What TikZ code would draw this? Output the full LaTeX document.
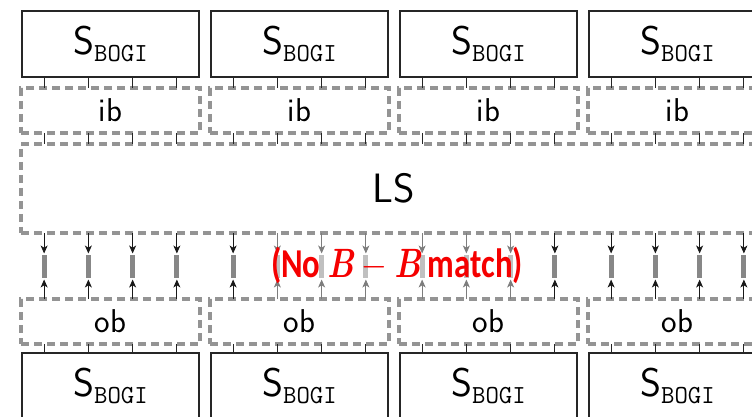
\documentclass[tikz,border=0pt]{standalone}
\usepackage{fontspec}
\newfontfamily\notefont{Carlito}
\usetikzlibrary{calc,arrows.meta}
\definecolor{dashgray}{RGB}{148,148,148}
\definecolor{bargray}{RGB}{135,135,135}
\definecolor{fadebar}{RGB}{192,192,192}
\definecolor{fadeline}{RGB}{125,125,125}
\definecolor{alertred}{RGB}{245,0,0}
\newcommand{\sbogi}{{\fontsize{40}{44}\selectfont\sffamily S\raisebox{-7pt}{\fontsize{26}{26}\selectfont\ttfamily BOGI}}}
\begin{document}
\begin{tikzpicture}[x=1pt,y=-1pt,
  sbox/.style={draw=black!85, line width=1.1pt, minimum width=177pt, minimum height=66pt,
    inner sep=0pt, outer sep=0pt, anchor=north west},
  dbox/.style={draw=dashgray, line width=3.4pt, dash pattern=on 8pt off 5pt,
    inner sep=0pt, outer sep=0pt, anchor=north west},
  buf/.style={dbox, minimum width=179pt, minimum height=45pt,
    font=\fontsize{33}{36}\selectfont\sffamily},
  tick/.style={draw=black!85, line width=0.9pt},
  arr/.style={draw=black!90, line width=0.9pt, shorten >=1.5pt,
    -{Stealth[length=8pt,width=7pt,inset=2.2pt]}},
  fadearr/.style={arr, draw=fadeline, fill=fadeline},
  bar/.style={fill=bargray, minimum width=4.8pt, minimum height=23pt, inner sep=0pt, outer sep=0pt},
  fadedbar/.style={bar, fill=fadebar},
]
\useasboundingbox (0,0) rectangle (752,417);

% the four lanes: source block, input buffer, output buffer, sink block
\foreach \i in {0,...,3} {
  \pgfmathsetmacro\lx{22+189*\i}
  \node[sbox] (st\i) at (\lx,11) {};
  \node at (st\i.center) {\sbogi};
  \node[buf] (ib\i) at (\lx-1,88) {ib};
  \node[buf] (ob\i) at (\lx-1,299) {ob};
  \node[sbox] (sb\i) at (\lx,353) {};
  \node at ([yshift=-33pt]sb\i.north) {\sbogi};
}

% shared stage spanning all lanes
\node[dbox, minimum width=746pt, minimum height=89pt,
  font=\fontsize{41}{44}\selectfont\sffamily] (ls) at (21,144) {LS};

\foreach \i in {0,...,3} {
  \foreach \f [count=\k from 0] in {0.125,0.375,0.625,0.875} {
    % links from the source block down into the shared stage
    \coordinate (t) at ($(st\i.south west)!\f!(st\i.south east)$);
    \draw[tick] (t) -- (t |- ib\i.north);
    \draw[tick] (t |- ib\i.south) -- (t |- ls.north);
    % links from the output buffer down into the sink block
    \coordinate (u) at ($(sb\i.north west)!\f!(sb\i.north east)$);
    \draw[tick] (u |- ob\i.south) -- (u);
    % blocked pairs between the shared stage and the output buffer
    \pgfmathtruncatemacro\fade{(\i==1 && \k>0) || (\i==2 && \k<3) ? 1 : 0}
    \ifnum\fade=1
      \node[fadedbar] (bar\i\k) at (t |- 0,266.5) {};
      \draw[fadearr] (t |- ls.south) -- (bar\i\k.north);
      \draw[fadearr] (t |- ob\i.north) -- (bar\i\k.south);
    \else
      \node[bar] (bar\i\k) at (t |- 0,266.5) {};
      \draw[arr] (t |- ls.south) -- (bar\i\k.north);
      \draw[arr] (t |- ob\i.north) -- (bar\i\k.south);
    \fi
  }
}

\node[text=alertred, font=\fontsize{41}{44}\selectfont\notefont\bfseries] (note) at (397,265)
  {\scalebox{0.8}[1]{(No\hspace{0.22em}{\rmfamily\bfseries\itshape B}\hspace{0.25em}{\rmfamily\mdseries −}\hspace{0.25em}{\rmfamily\bfseries\itshape B}\hspace{0.2em}match)}};
\end{tikzpicture}
\end{document}
